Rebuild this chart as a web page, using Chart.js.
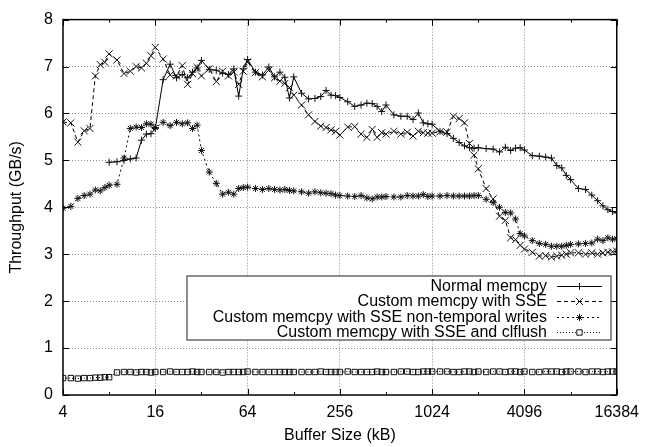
<!DOCTYPE html>
<html><head><meta charset="utf-8">
<script src="https://cdn.jsdelivr.net/npm/chart.js@4/dist/chart.umd.min.js"></script>
<style>html,body{margin:0;padding:0;background:#fff}canvas{display:block}</style>
</head><body>
<canvas id="c" width="647" height="447"></canvas>
<script>
// Buffer sizes (kB)
const sizesKB = [
  4,4.5,5,5.5,6,6.5,7,7.5,
  8,9,10,11,12,13,14,15,
  16,18,20,22,24,26,28,30,
  32,36,40,44,48,52,56,60,
  64,72,80,88,96,104,112,120,
  128,144,160,176,192,208,224,240,
  256,288,320,352,384,416,448,480,
  512,576,640,704,768,832,896,960,
  1024,1152,1280,1408,1536,1664,1792,1920,
  2048,2304,2560,2816,3072,3328,3584,3840,
  4096,4608,5120,5632,6144,6656,7168,7680,
  8192,9216,10240,11264,12288,13312,14336,15360,
  16384];

const normalMemcpy = [
  null,null,null,null,null,null,null,null,
  4.96,4.97,5.00,5.03,5.05,5.43,5.56,5.57,
  5.68,6.72,7.05,6.76,6.83,6.76,6.88,6.97,
  7.13,6.94,6.92,6.86,6.83,6.95,6.37,6.95,
  7.15,6.88,6.82,6.99,6.78,6.88,6.77,6.33,
  6.78,6.43,6.31,6.32,6.36,6.49,6.39,6.38,
  6.34,6.25,6.15,6.18,6.22,6.21,6.15,6.04,
  6.18,5.97,5.94,5.94,5.87,6.01,5.80,5.78,
  5.77,5.62,5.57,5.47,5.38,5.31,5.27,5.26,
  5.27,5.25,5.24,5.18,5.28,5.21,5.26,5.27,
  5.22,5.10,5.09,5.07,5.05,4.89,4.84,4.68,
  4.59,4.40,4.38,4.26,4.14,4.03,3.95,3.91,
  3.88];

const sseMemcpy = [
  5.82,5.80,5.39,5.63,5.68,6.80,7.04,7.09,
  7.27,7.14,6.85,6.90,7.00,6.97,7.07,7.23,
  7.41,7.16,6.82,6.80,7.02,6.62,6.85,6.98,
  6.80,6.95,6.68,6.90,6.80,6.88,6.62,6.90,
  7.10,6.87,6.78,6.92,6.76,6.69,6.64,6.55,
  6.39,6.18,5.97,5.83,5.73,5.70,5.65,5.62,
  5.54,5.71,5.72,5.56,5.49,5.66,5.49,5.59,
  5.56,5.62,5.56,5.60,5.52,5.62,5.59,5.58,
  5.58,5.61,5.60,5.94,5.89,5.80,5.36,5.11,
  4.82,4.40,4.18,3.81,3.72,3.35,3.31,3.19,
  3.11,3.04,2.96,2.97,2.94,2.96,2.98,3.00,
  3.03,3.03,3.00,3.03,3.00,3.03,3.04,3.05,
  3.06];

const sseNonTemporal = [
  3.98,4.02,4.19,4.25,4.28,4.37,4.35,4.42,
  4.47,4.49,5.05,5.68,5.71,5.70,5.78,5.77,
  5.70,5.81,5.74,5.81,5.78,5.80,5.68,5.75,
  5.21,4.75,4.51,4.28,4.32,4.28,4.40,4.42,
  4.43,4.40,4.38,4.40,4.38,4.37,4.38,4.36,
  4.35,4.33,4.30,4.33,4.31,4.30,4.29,4.26,
  4.25,4.24,4.23,4.25,4.20,4.18,4.22,4.22,
  4.23,4.22,4.22,4.25,4.24,4.24,4.27,4.23,
  4.24,4.24,4.25,4.24,4.24,4.24,4.24,4.25,
  4.25,4.17,4.10,4.00,3.89,3.88,3.75,3.44,
  3.39,3.29,3.23,3.21,3.17,3.17,3.17,3.19,
  3.21,3.22,3.23,3.24,3.32,3.29,3.35,3.32,
  3.33];

const sseClflush = [
  0.36,0.36,0.35,0.36,0.36,0.37,0.37,0.38,
  0.38,0.48,0.49,0.49,0.48,0.49,0.49,0.48,
  0.49,0.49,0.50,0.49,0.49,0.49,0.50,0.49,
  0.49,0.49,0.49,0.48,0.49,0.49,0.49,0.49,
  0.50,0.49,0.49,0.49,0.49,0.49,0.49,0.49,
  0.49,0.49,0.49,0.49,0.50,0.49,0.49,0.49,
  0.49,0.50,0.49,0.49,0.49,0.49,0.50,0.49,
  0.49,0.49,0.50,0.50,0.49,0.49,0.50,0.50,
  0.50,0.50,0.50,0.49,0.49,0.50,0.50,0.49,
  0.50,0.49,0.50,0.50,0.49,0.50,0.50,0.49,
  0.50,0.49,0.49,0.50,0.50,0.50,0.49,0.50,
  0.50,0.50,0.49,0.50,0.50,0.49,0.50,0.50,
  0.50];

const seriesLabels = ['Normal memcpy','Custom memcpy with SSE','Custom memcpy with SSE non-temporal writes','Custom memcpy with SSE and clflush'];
const xTickValues = [4,8,16,32,64,128,256,512,1024,2048,4096,8192,16384];
const xTickLabels = ['4','','16','','64','','256','','1024','','4096','','16384'];
const yTickValues = [0,1,2,3,4,5,6,7,8];

const FONT = "'Liberation Sans', Arial, Helvetica, sans-serif";
const GRID = '#8a8a8a';

function pts(vals){ return sizesKB.map((s,i)=>({x:s, y:vals[i]})); }
function isMajorX(v){ const i = xTickValues.indexOf(v); return i>=0 && xTickLabels[i] !== ''; }

const styles = [
  {dash:[], point:'cross', r:3.5},
  {dash:[4,3], point:'crossRot', r:5},
  {dash:[2,3], point:'star', r:3.5},
  {dash:[1,2], point:'rect', r:3.8}
];
const seriesData = [normalMemcpy, sseMemcpy, sseNonTemporal, sseClflush];

const datasets = seriesData.map((vals,k)=>({
  label: seriesLabels[k],
  data: pts(vals),
  borderColor:'#000',
  borderWidth:1,
  borderDash: styles[k].dash,
  pointStyle: styles[k].point,
  pointRadius: styles[k].r,
  pointBorderColor:'#111',
  pointBorderWidth:1,
  pointBackgroundColor:'rgba(255,255,255,0)',
  fill:false,
  tension:0,
  spanGaps:false
}));

const framePlugin = {
  id:'frame',
  afterDraw(chart){
    const {ctx, chartArea:a, scales:{x,y}} = chart;
    ctx.save();
    // tick marks (inward, mirrored)
    ctx.strokeStyle = '#000'; ctx.lineWidth = 1; ctx.setLineDash([]);
    xTickValues.forEach((v,i)=>{
      const px = Math.round(x.getPixelForValue(v)) + 0.5;
      const len = xTickLabels[i] !== '' ? 6 : 3;
      ctx.beginPath();
      ctx.moveTo(px, a.bottom); ctx.lineTo(px, a.bottom - len);
      ctx.moveTo(px, a.top); ctx.lineTo(px, a.top + len);
      ctx.stroke();
    });
    yTickValues.forEach(v=>{
      const py = Math.round(y.getPixelForValue(v)) + 0.5;
      ctx.beginPath();
      ctx.moveTo(a.left, py); ctx.lineTo(a.left + 6, py);
      ctx.moveTo(a.right, py); ctx.lineTo(a.right - 6, py);
      ctx.stroke();
    });
    // border
    ctx.lineWidth = 1.5;
    ctx.strokeRect(a.left, a.top, a.right - a.left, a.bottom - a.top);

    // legend (gnuplot style)
    const bx = 187, by = 276, bw = 424, bh = 64;
    ctx.fillStyle = '#fff';
    ctx.fillRect(bx, by, bw, bh);
    ctx.strokeStyle = '#444'; ctx.lineWidth = 1.2;
    ctx.strokeRect(bx, by, bw, bh);
    ctx.font = '16px ' + FONT;
    ctx.textAlign = 'right'; ctx.textBaseline = 'middle';
    const rows = [285.5, 301, 316.5, 332];
    chart.data.datasets.forEach((ds,k)=>{
      const ry = rows[k];
      ctx.fillStyle = '#000';
      ctx.fillText(ds.label, 547, ry + 1);
      ctx.strokeStyle = '#000'; ctx.lineWidth = 1;
      ctx.setLineDash(ds.borderDash);
      ctx.beginPath(); ctx.moveTo(557, Math.round(ry)+0.5); ctx.lineTo(602, Math.round(ry)+0.5); ctx.stroke();
      ctx.setLineDash([]);
      ctx.strokeStyle = '#111';
      ctx.fillStyle = '#fff';
      Chart.helpers.drawPoint(ctx, {pointStyle: ds.pointStyle, radius: ds.pointRadius, borderWidth:1, rotation:0}, 579.5, Math.round(ry)+0.5);
    });
    ctx.restore();
  }
};

new Chart(document.getElementById('c'), {
  type:'line',
  data:{datasets},
  plugins:[framePlugin],
  options:{
    responsive:false, animation:false, devicePixelRatio:1,
    layout:{padding:{left:0,right:25,top:13,bottom:0}},
    plugins:{legend:{display:false}, tooltip:{enabled:false}},
    scales:{
      x:{
        type:'logarithmic', min:4, max:16384,
        afterBuildTicks(s){ s.ticks = xTickValues.map(v=>({value:v})); },
        afterFit(s){ s.height = 52; },
        ticks:{
          autoSkip:false, maxRotation:0, minRotation:0, padding:8, color:'#000',
          font:{family:FONT, size:16},
          callback(v){ const i = xTickValues.indexOf(v); return i>=0 ? xTickLabels[i] : ''; }
        },
        grid:{
          drawTicks:false, lineWidth:1,
          color(ctx){ const v = ctx.tick && ctx.tick.value; return (isMajorX(v) && v!==4 && v!==16384) ? GRID : 'rgba(0,0,0,0)'; }
        },
        border:{display:false, dash:[1,2]},
        title:{display:true, text:'Buffer Size (kB)', color:'#000', font:{family:FONT, size:16}, padding:{top:0,bottom:2}}
      },
      y:{
        min:0, max:8,
        afterBuildTicks(s){ s.ticks = yTickValues.map(v=>({value:v})); },
        afterFit(s){ s.width = 63; },
        ticks:{stepSize:1, padding:10, color:'#000', font:{family:FONT, size:16}},
        grid:{
          drawTicks:false, lineWidth:1,
          color(ctx){ const v = ctx.tick && ctx.tick.value; return (v>0 && v<8) ? GRID : 'rgba(0,0,0,0)'; }
        },
        border:{display:false, dash:[1,2]},
        title:{display:true, text:'Throughput (GB/s)', color:'#000', font:{family:FONT, size:16}, padding:{top:7,bottom:0}}
      }
    }
  }
});
</script>
</body></html>
